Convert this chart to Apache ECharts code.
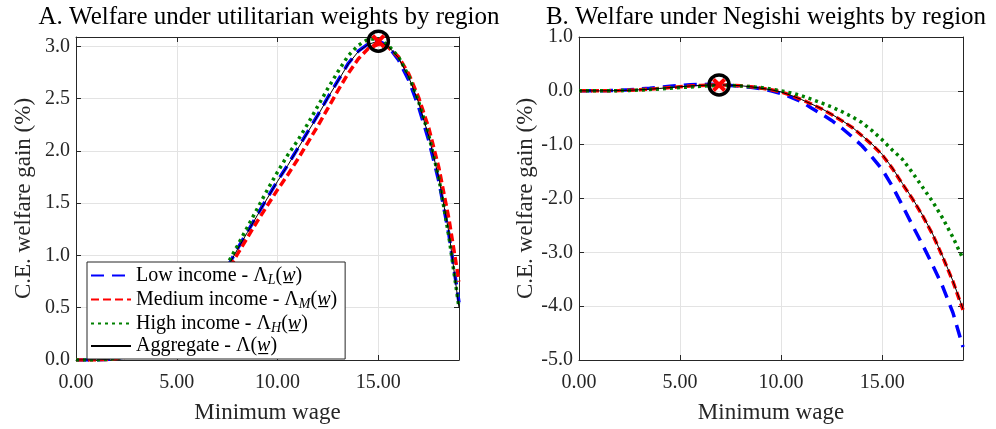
<!DOCTYPE html>
<html>
<head>
<meta charset="utf-8">
<script src="https://cdn.jsdelivr.net/npm/echarts@6/dist/echarts.min.js"></script>
<style>
html,body{margin:0;padding:0;background:#fff;}
#chart{width:996px;height:429px;}
</style>
</head>
<body>
<div id="chart"></div>
<script>
// ---- data ----
var wage = [0,0.5,1,1.5,2,2.5,3,3.5,4,4.5,5,5.5,6,6.5,7,7.5,8,8.5,9,9.5,10,10.5,11,11.5,12,12.5,13,13.5,14,14.5,15,15.5,16,16.5,17,17.5,18,18.5,19];

// Panel A: utilitarian weights
var utilLow  = [0,0,0,0.005,0.016,0.031,0.057,0.092,0.14,0.198,0.275,0.362,0.468,0.585,0.728,0.885,1.06,1.225,1.39,1.555,1.715,1.865,2.025,2.185,2.345,2.515,2.675,2.835,2.955,3.025,3.055,3.0,2.87,2.68,2.42,2.1,1.71,1.2,0.55];
var utilMed  = [0,0,0,0.004,0.014,0.028,0.052,0.085,0.128,0.185,0.258,0.34,0.44,0.553,0.69,0.845,1.01,1.17,1.33,1.48,1.63,1.77,1.92,2.08,2.24,2.41,2.58,2.74,2.88,2.98,3.02,2.99,2.9,2.74,2.51,2.22,1.84,1.35,0.75];
var utilHigh = [0,0,0,0.005,0.017,0.033,0.06,0.095,0.143,0.205,0.282,0.373,0.483,0.607,0.752,0.915,1.09,1.27,1.45,1.63,1.8,1.96,2.1,2.26,2.43,2.6,2.76,2.91,3.01,3.07,3.07,3.01,2.9,2.72,2.47,2.15,1.74,1.18,0.5];
var utilAgg  = [0,0,0,0.005,0.015,0.03,0.055,0.09,0.138,0.195,0.272,0.358,0.463,0.58,0.723,0.88,1.055,1.22,1.385,1.55,1.71,1.86,2.02,2.18,2.34,2.51,2.67,2.83,2.95,3.02,3.05,3.0,2.89,2.71,2.46,2.14,1.74,1.22,0.5];

// Panel B: Negishi weights
var negLow  = [0,0,0.002,0.005,0.01,0.02,0.035,0.05,0.068,0.085,0.1,0.112,0.118,0.12,0.115,0.1,0.085,0.065,0.04,0.0,-0.05,-0.12,-0.2,-0.32,-0.43,-0.55,-0.69,-0.85,-1.02,-1.23,-1.46,-1.77,-2.13,-2.5,-2.86,-3.24,-3.64,-4.12,-4.76];
var negMed  = [0,0,0,0.002,0.005,0.01,0.02,0.03,0.045,0.06,0.075,0.09,0.1,0.108,0.11,0.105,0.095,0.075,0.05,0.02,-0.02,-0.085,-0.16,-0.245,-0.335,-0.44,-0.555,-0.675,-0.835,-1.0,-1.19,-1.44,-1.73,-2.01,-2.32,-2.67,-3.09,-3.54,-4.07];
var negHigh = [0,0,0,0.002,0.004,0.008,0.015,0.025,0.035,0.048,0.06,0.072,0.085,0.095,0.1,0.1,0.09,0.078,0.06,0.035,0.0,-0.04,-0.09,-0.155,-0.225,-0.3,-0.385,-0.48,-0.59,-0.74,-0.91,-1.1,-1.27,-1.52,-1.79,-2.06,-2.37,-2.72,-3.12];
var negAgg  = [0,0,0,0.002,0.005,0.01,0.02,0.03,0.045,0.06,0.075,0.09,0.1,0.108,0.11,0.105,0.095,0.075,0.05,0.02,-0.02,-0.085,-0.16,-0.245,-0.33,-0.435,-0.55,-0.67,-0.83,-0.99,-1.18,-1.43,-1.72,-2.0,-2.31,-2.66,-3.08,-3.53,-4.05];

// optimum markers [wage, gain]
var utilOptimum = [15, 3.05];
var negOptimum  = [6.93, 0.11];

var seriesNames = ['Low income', 'Medium income', 'High income', 'Aggregate'];
var seriesSubs  = ['L', 'M', 'H', ''];
var panelTitles = ['A. Welfare under utilitarian weights by region', 'B. Welfare under Negishi weights by region'];
var xAxisTitle = 'Minimum wage';
var yAxisTitle = 'C.E. welfare gain (%)';

// ---- chart ----
var FONT = 'Liberation Serif';
function pairs(ys){ return wage.map(function(x,i){ return [x, ys[i]]; }); }

var styles = [
  {color:'#0000ff', width:3.5, type:[13,8]},
  {color:'#ff0000', width:3.5, type:[8,4]},
  {color:'#008000', width:3.5, type:[3,4]},
  {color:'#000000', width:1, type:'solid'}
];

function lineSeries(idx, ys, gi){
  var s = styles[idx];
  return {
    type:'line', name: seriesNames[idx], data: pairs(ys),
    xAxisIndex: gi*2, yAxisIndex: gi*2, showSymbol:false, symbol:'none',
    lineStyle:{color:s.color, width:s.width, type:s.type, cap:'butt'},
    itemStyle:{color:s.color, opacity:0}, z: 2 + idx*0.1, animation:false
  };
}

function markerSeries(pt, gi){
  return [{
    type:'scatter', data:[pt], xAxisIndex: gi*2, yAxisIndex: gi*2,
    symbol:'circle', symbolSize:20,
    itemStyle:{color:'rgba(0,0,0,0)', borderColor:'#000', borderWidth:3.5, opacity:1},
    z:5, silent:true, animation:false
  },{
    type:'scatter', data:[pt], xAxisIndex: gi*2, yAxisIndex: gi*2,
    symbol:'path://M0,2 L2,0 L5,3 L8,0 L10,2 L7,5 L10,8 L8,10 L5,7 L2,10 L0,8 L3,5 Z',
    symbolSize:14, itemStyle:{color:'#ff0000', opacity:1}, z:6, silent:true, animation:false
  }];
}

var axisLineStyle = {show:true, onZero:false, lineStyle:{color:'#262626', width:1}};
var tickStyle = {show:true, inside:true, length:5, lineStyle:{color:'#262626'}};
var gridLine = {show:true, lineStyle:{color:'#e3e3e3', width:1}};

function xAxes(gi){
  return [{
    type:'value', gridIndex:gi, position:'bottom', min:0, max:19, interval:5,
    axisLine:axisLineStyle, axisTick:tickStyle, splitLine:gridLine,
    name:xAxisTitle, nameLocation:'middle', nameGap:41,
    nameTextStyle:{fontFamily:FONT, fontSize:23, color:'#262626'},
    axisLabel:{fontFamily:FONT, fontSize:20, color:'#262626', margin:13,
      formatter:function(v){ return (Math.abs(v % 5) < 1e-9) ? v.toFixed(2) : ''; }}
  },{
    type:'value', gridIndex:gi, position:'top', min:0, max:19, interval:5,
    axisLine:axisLineStyle, axisTick:tickStyle, splitLine:{show:false}, axisLabel:{show:false}
  }];
}

function yAxes(gi, mn, mx, step){
  return [{
    type:'value', gridIndex:gi, position:'left', min:mn, max:mx, interval:step,
    axisLine:axisLineStyle, axisTick:tickStyle, splitLine:gridLine,
    name:yAxisTitle, nameLocation:'middle', nameGap:gi===0?41:40,
    nameTextStyle:{fontFamily:FONT, fontSize:23, color:'#262626'},
    axisLabel:{fontFamily:FONT, fontSize:20, color:'#262626', margin:6,
      formatter:function(v){
        var r = Math.round(v/step)*step;
        return (Math.abs(v - r) < 1e-9) ? v.toFixed(1) : '';
      }}
  },{
    type:'value', gridIndex:gi, position:'right', min:mn, max:mx, interval:step,
    axisLine:axisLineStyle, axisTick:tickStyle, splitLine:{show:false}, axisLabel:{show:false}
  }];
}

var series = [];
series.push(lineSeries(0, utilLow, 0), lineSeries(1, utilMed, 0), lineSeries(2, utilHigh, 0), lineSeries(3, utilAgg, 0));
series.push(lineSeries(0, negLow, 1), lineSeries(1, negMed, 1), lineSeries(2, negHigh, 1), lineSeries(3, negAgg, 1));
series = series.concat(markerSeries(utilOptimum, 0), markerSeries(negOptimum, 1));

var option = {
  animation:false,
  backgroundColor:'#ffffff',
  grid:[
    {left:76, top:37, width:383, height:331},
    {left:579, top:37, width:384, height:331}
  ],
  xAxis: xAxes(0).concat(xAxes(1)),
  yAxis: yAxes(0, 0, 3.09, 0.5).concat(yAxes(1, -5, 1, 1)),
  legend:{
    data: seriesNames, orient:'vertical', left:87, top:262,
    backgroundColor:'#ffffff', borderColor:'#262626', borderWidth:1,
    padding:[2,8,3,3], itemWidth:40, itemHeight:14, itemGap:1,
    selectedMode:false,
    itemStyle:{opacity:0},
    textStyle:{fontFamily:FONT, fontSize:20, lineHeight:20, color:'#000',
      rich:{
        s:{fontFamily:FONT, fontSize:14, lineHeight:14, fontStyle:'italic', color:'#000', padding:[9,0,0,0]},
        u:{fontFamily:FONT, fontSize:20, lineHeight:20, fontStyle:'italic', color:'#000'}
      }},
    formatter:function(name){
      var i = seriesNames.indexOf(name);
      var sub = seriesSubs[i];
      return name + ' - \u039b' + (sub ? '{s|' + sub + '}' : '') + '({u|w\u0332})';
    }
  },
  graphic:[
    {type:'text', x:269, y:5, style:{text:panelTitles[0], font:'25px "Liberation Serif"', fill:'#000', textAlign:'center'}},
    {type:'text', x:766, y:5, style:{text:panelTitles[1], font:'25px "Liberation Serif"', fill:'#000', textAlign:'center'}}
  ],
  series: series
};

var chart = echarts.init(document.getElementById('chart'), null, {renderer:'canvas'});
chart.setOption(option);
</script>
</body>
</html>
